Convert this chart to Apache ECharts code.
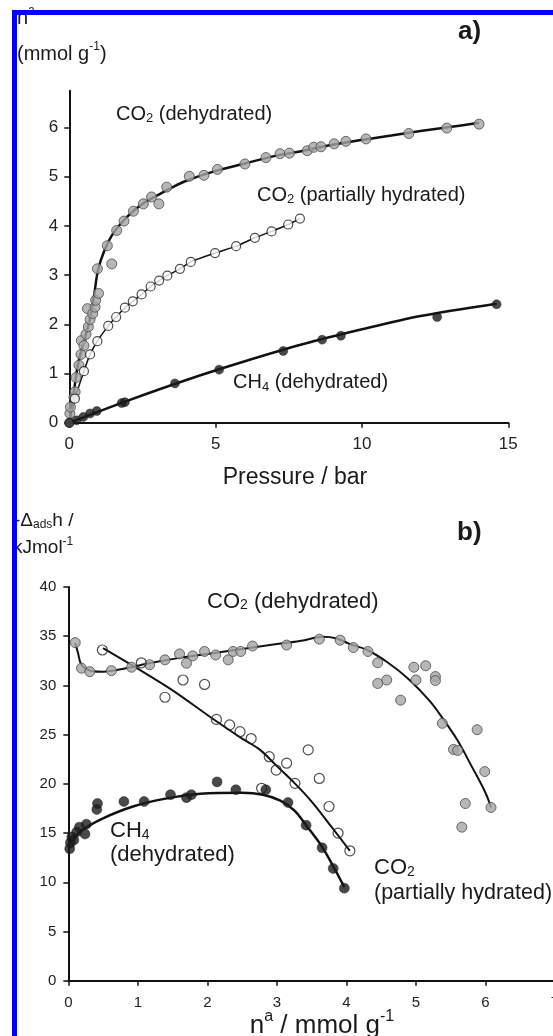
<!DOCTYPE html>
<html><head><meta charset="utf-8">
<script src="https://cdn.jsdelivr.net/npm/echarts@6/dist/echarts.min.js"></script>
<style>html,body{margin:0;padding:0;background:#fff}#c{width:553px;height:1036px}</style>
</head><body><div id="c"></div>
<script>
// ---------- Panel a) : uptake n^a (mmol/g) vs pressure (bar) ----------
const aXTicks = [0, 5, 10, 15];
const aYTicks = [0, 1, 2, 3, 4, 5, 6];
// CO2 (dehydrated) measured points
const aCO2DehP = [0.02,0.04,0.16,0.2,0.23,0.33,0.40,0.41,0.5,0.57,0.65,0.71,0.62,0.8,0.88,0.9,1.0,0.96,1.45,1.3,1.62,1.87,2.19,2.53,2.81,3.06,3.33,4.1,4.6,5.06,6.0,6.72,7.2,7.52,8.13,8.35,8.6,9.05,9.45,10.14,11.6,12.9,14.0];
const aCO2DehN = [0.19,0.32,0.52,0.63,0.92,1.17,1.39,1.67,1.57,1.80,1.95,2.10,2.32,2.22,2.35,2.49,2.63,3.13,3.23,3.60,3.91,4.10,4.30,4.45,4.59,4.45,4.79,5.01,5.03,5.15,5.26,5.39,5.47,5.48,5.53,5.60,5.61,5.67,5.72,5.77,5.88,5.99,6.07];
// CO2 (dehydrated) fitted curve
const aCO2DehFitP = [0,0.15,0.3,0.5,0.7,0.85,0.98,1.2,1.5,2.0,2.5,3.0,3.5,4,5,6,7,8,9,10,11,12,13,14];
const aCO2DehFitN = [0,0.6,1.2,1.65,2.1,2.6,3.1,3.5,3.85,4.2,4.45,4.62,4.78,4.92,5.12,5.27,5.42,5.53,5.65,5.75,5.84,5.93,6.01,6.1];
// CO2 (partially hydrated)
const aCO2HydP = [0,0.19,0.5,0.71,0.96,1.33,1.6,1.9,2.17,2.47,2.78,3.07,3.35,3.78,4.15,4.98,5.7,6.34,6.91,7.48,7.88];
const aCO2HydN = [0,0.49,1.05,1.39,1.66,1.97,2.15,2.34,2.47,2.61,2.77,2.89,2.99,3.13,3.27,3.45,3.59,3.76,3.89,4.03,4.15];
// CH4 (dehydrated)
const aCH4P = [0,0.25,0.48,0.71,0.94,1.79,1.9,3.61,5.12,7.31,8.64,9.28,12.57,14.6];
const aCH4N = [0,0.05,0.12,0.19,0.24,0.40,0.42,0.80,1.08,1.46,1.69,1.77,2.15,2.41];
const aCH4FitP = [0,2,4,6,8,10,12,14.6];
const aCH4FitN = [0,0.45,0.87,1.25,1.6,1.9,2.17,2.42];

// ---------- Panel b) : -Δads h (kJ/mol) vs n^a (mmol/g) ----------
const bXTicks = [0,1,2,3,4,5,6,7];
const bYTicks = [0,5,10,15,20,25,30,35,40];
const bCO2DehN = [0.1,0.19,0.31,0.62,0.91,1.17,1.39,1.6,1.7,1.79,1.96,2.12,2.3,2.37,2.48,2.65,3.14,3.61,3.91,4.1,4.31,4.45,4.45,4.58,4.78,4.97,5.14,5.0,5.28,5.28,5.38,5.54,5.6,5.88,5.99,5.71,6.08,5.66];
const bCO2DehH = [34.35,31.75,31.4,31.5,31.85,32.1,32.6,33.2,32.25,33.0,33.45,33.1,32.6,33.45,33.45,34.0,34.1,34.7,34.6,33.85,33.45,32.3,30.2,30.55,28.5,31.85,32.0,30.55,30.9,30.5,26.15,23.5,23.4,25.5,21.25,18.0,17.6,15.6];
const bCO2DehFitN = [0.1,0.14,0.18,0.25,0.35,0.5,0.8,1.2,1.6,2.0,2.5,3.0,3.4,3.65,3.85,4.05,4.3,4.6,4.9,5.2,5.4,5.6,5.8,6.0,6.08];
const bCO2DehFitH = [34.3,33.3,32.2,31.7,31.45,31.4,31.7,32.3,32.8,33.2,33.7,34.2,34.6,34.95,34.8,34.2,33.6,32.3,30.6,28.4,26.5,24.4,21.8,19.1,17.6];
const bCO2HydN = [0.49,1.05,1.39,1.65,1.96,2.13,2.32,2.47,2.63,2.89,2.99,2.78,3.14,3.45,3.26,3.61,3.75,3.88,4.05];
const bCO2HydH = [33.6,32.3,28.8,30.55,30.1,26.55,25.99,25.3,24.6,22.76,21.4,19.55,22.1,23.45,20.05,20.55,17.7,15.0,13.2];
const bCO2HydFitN = [0.5,1.0,1.5,2.0,2.5,2.75,3.0,3.25,3.5,3.8,4.05];
const bCO2HydFitH = [33.8,31.7,29.5,27.0,24.6,23.5,21.8,20.1,18.2,15.5,13.2];
const bCH4N = [0.02,0.03,0.05,0.08,0.12,0.16,0.24,0.26,0.41,0.42,0.8,1.09,1.47,1.7,1.77,2.14,2.41,2.84,3.16,3.42,3.65,3.81,3.97];
const bCH4H = [13.4,14.0,14.6,14.3,15.1,15.6,14.9,15.9,17.4,18.0,18.2,18.2,18.9,18.6,18.9,20.2,19.4,19.4,18.1,15.8,13.5,11.4,9.4];
const bCH4FitN = [0.02,0.2,0.5,0.93,1.4,1.9,2.5,2.8,3.05,3.25,3.43,3.65,3.82,3.97];
const bCH4FitH = [14.0,15.3,16.5,17.7,18.5,19.0,19.1,18.9,18.3,17.3,15.7,13.6,11.5,9.5];

const FONT = "'Liberation Sans', Arial, Helvetica, sans-serif";
const INK = '#1a1a1a';
function pairs(xs, ys) { return xs.map((x, i) => [x, ys[i]]); }

// rich text label: parts = [[text, kind]] kind: 'm' main, 's' subscript, 'p' superscript, 'b' bold
function label(x, yc, parts, size, align) {
  const P = Math.round(size * 0.14);          // top padding of main tokens
  const subFs = Math.round(size * 0.65);
  const supFs = Math.round(size * 0.62);
  const mainC = P + size / 2;                  // centre of main text inside line box
  const subPad = Math.max(0, Math.round(mainC + size * 0.2 - subFs / 2));
  const rich = {
    m: { fontSize: size, verticalAlign: 'top', padding: [P, 0, 0, 0], fontFamily: FONT, fill: INK },
    b: { fontSize: size, verticalAlign: 'top', padding: [P, 0, 0, 0], fontFamily: FONT, fontWeight: 'bold', fill: INK },
    s: { fontSize: subFs, verticalAlign: 'top', padding: [subPad, 0, 0, 0], fontFamily: FONT, fill: INK },
    p: { fontSize: supFs, verticalAlign: 'top', padding: [0, 0, 0, 0], fontFamily: FONT, fill: INK }
  };
  const text = parts.map(p => '{' + p[1] + '|' + p[0] + '}').join('');
  return {
    type: 'text', x: x, y: yc - mainC, z: 50,
    style: { text: text, rich: rich, align: align || 'left', verticalAlign: 'top',
             textAlign: align || 'left', textVerticalAlign: 'top', fill: INK, font: size + 'px ' + FONT }
  };
}

const axisLineStyle = { color: '#111', width: 2 };
function xAxisCfg(grid, min, max, interval, fs, margin) {
  return {
    type: 'value', gridIndex: grid, min: min, max: max, interval: interval,
    axisLine: { show: true, onZero: false, lineStyle: axisLineStyle },
    axisTick: { show: true, inside: false, length: 5, lineStyle: { color: '#111', width: 1.5 } },
    axisLabel: { fontSize: fs, fontFamily: FONT, color: '#222', margin: margin, showMaxLabel: true, showMinLabel: true },
    splitLine: { show: false }
  };
}

const option = {
  animation: false,
  backgroundColor: '#ffffff',
  grid: [
    { left: 69.3, right: 44.7, top: 90.7, bottom: 613.2, outerBoundsMode: 'none', containLabel: false },
    { left: 68.3, right: -2, top: 587, bottom: 55.3, outerBoundsMode: 'none', containLabel: false }
  ],
  xAxis: [
    xAxisCfg(0, aXTicks[0], aXTicks[aXTicks.length - 1], 5, 17, 13),
    xAxisCfg(1, bXTicks[0], bXTicks[bXTicks.length - 1], 1, 15, 15)
  ],
  yAxis: [
    {
      type: 'value', gridIndex: 0, min: 0, max: 6.75, interval: 1,
      axisLine: { show: true, onZero: false, lineStyle: axisLineStyle },
      axisTick: { show: true, length: 5, lineStyle: { color: '#111', width: 1.5 }, customValues: aYTicks },
      axisLabel: { fontSize: 17, fontFamily: FONT, color: '#222', margin: 11, customValues: aYTicks,
                   formatter: v => (Math.abs(v - Math.round(v)) < 1e-6 ? String(Math.round(v)) : '') },
      splitLine: { show: false }
    },
    {
      type: 'value', gridIndex: 1, min: bYTicks[0], max: bYTicks[bYTicks.length - 1], interval: 5,
      axisLine: { show: true, onZero: false, lineStyle: axisLineStyle },
      axisTick: { show: true, length: 5, lineStyle: { color: '#111', width: 1.5 } },
      axisLabel: { fontSize: 15, fontFamily: FONT, color: '#222', margin: 12 },
      splitLine: { show: false }
    }
  ],
  series: [
    // panel a
    { type: 'line', xAxisIndex: 0, yAxisIndex: 0, data: pairs(aCO2DehFitP, aCO2DehFitN), smooth: 0.35, symbol: 'none', lineStyle: { color: '#111', width: 2.5 }, z: 2, silent: true },
    { type: 'scatter', xAxisIndex: 0, yAxisIndex: 0, data: pairs(aCO2DehP, aCO2DehN), symbolSize: 10, itemStyle: { color: '#a5a5a5', borderColor: '#4a4a4a', borderWidth: 1 }, z: 3 },
    { type: 'line', xAxisIndex: 0, yAxisIndex: 0, data: pairs(aCO2HydP, aCO2HydN), smooth: 0.3, symbol: 'none', lineStyle: { color: '#111', width: 1.5 }, z: 2, silent: true },
    { type: 'scatter', xAxisIndex: 0, yAxisIndex: 0, data: pairs(aCO2HydP, aCO2HydN), symbolSize: 9, itemStyle: { color: '#ffffff', borderColor: '#222', borderWidth: 1.2 }, z: 3 },
    { type: 'line', xAxisIndex: 0, yAxisIndex: 0, data: pairs(aCH4FitP, aCH4FitN), smooth: 0.3, symbol: 'none', lineStyle: { color: '#111', width: 2.5 }, z: 2, silent: true },
    { type: 'scatter', xAxisIndex: 0, yAxisIndex: 0, data: pairs(aCH4P, aCH4N), symbolSize: 9, itemStyle: { color: '#1c1c1c', borderColor: '#111', borderWidth: 0.5 }, z: 3 },
    // panel b
    { type: 'line', xAxisIndex: 1, yAxisIndex: 1, data: pairs(bCO2DehFitN, bCO2DehFitH), smooth: 0.35, symbol: 'none', lineStyle: { color: '#111', width: 2 }, z: 2, silent: true },
    { type: 'scatter', xAxisIndex: 1, yAxisIndex: 1, data: pairs(bCO2DehN, bCO2DehH), symbolSize: 10, itemStyle: { color: '#a5a5a5', borderColor: '#4a4a4a', borderWidth: 1 }, z: 3 },
    { type: 'line', xAxisIndex: 1, yAxisIndex: 1, data: pairs(bCO2HydFitN, bCO2HydFitH), smooth: 0.35, symbol: 'none', lineStyle: { color: '#111', width: 2 }, z: 2, silent: true },
    { type: 'scatter', xAxisIndex: 1, yAxisIndex: 1, data: pairs(bCO2HydN, bCO2HydH), symbolSize: 10, itemStyle: { color: 'rgba(255,255,255,0)', borderColor: '#222', borderWidth: 1.2 }, z: 3 },
    { type: 'line', xAxisIndex: 1, yAxisIndex: 1, data: pairs(bCH4FitN, bCH4FitH), smooth: 0.35, symbol: 'none', lineStyle: { color: '#111', width: 2.5 }, z: 2, silent: true },
    { type: 'scatter', xAxisIndex: 1, yAxisIndex: 1, data: pairs(bCH4N, bCH4H), symbolSize: 10, itemStyle: { color: '#1c1c1c', borderColor: '#111', borderWidth: 0.5 }, z: 3 }
  ],
  graphic: [
    // panel a texts
    label(17, 18, [['n', 'm'], ['a', 'p']], 20),
    label(17, 54, [['(mmol g', 'm'], ['-1', 'p'], [')', 'm']], 20),
    label(458, 32, [['a)', 'b']], 26),
    label(116, 114, [['CO', 'm'], ['2', 's'], [' (dehydrated)', 'm']], 20),
    label(257, 195, [['CO', 'm'], ['2', 's'], [' (partially hydrated)', 'm']], 20),
    label(233, 382.5, [['CH', 'm'], ['4', 's'], [' (dehydrated)', 'm']], 20),
    label(295, 477.5, [['Pressure / bar', 'm']], 23, 'center'),
    // panel b texts
    label(14, 521, [['-Δ', 'm'], ['ads', 's'], ['h /', 'm']], 19),
    label(13, 548, [['kJmol', 'm'], ['-1', 'p']], 19),
    label(457, 533, [['b)', 'b']], 26),
    label(207, 601.5, [['CO', 'm'], ['2', 's'], [' (dehydrated)', 'm']], 22),
    label(110, 831, [['CH', 'm'], ['4', 's']], 22),
    label(110, 855, [['(dehydrated)', 'm']], 22),
    label(374, 868, [['CO', 'm'], ['2', 's']], 22),
    label(374, 892.5, [['(partially hydrated)', 'm']], 21.5),
    label(322, 1026, [['n', 'm'], ['a', 'p'], [' / mmol g', 'm'], ['-1', 'p']], 26, 'center'),
    // blue frame
    { type: 'rect', z: 100, shape: { x: 12, y: 10, width: 5, height: 1026 }, style: { fill: '#0000ff' } },
    { type: 'rect', z: 100, shape: { x: 12, y: 10, width: 541, height: 5 }, style: { fill: '#0000ff' } }
  ]
};

const chart = echarts.init(document.getElementById('c'), null, { renderer: 'canvas', width: 553, height: 1036 });
chart.setOption(option);
</script>
</body></html>
